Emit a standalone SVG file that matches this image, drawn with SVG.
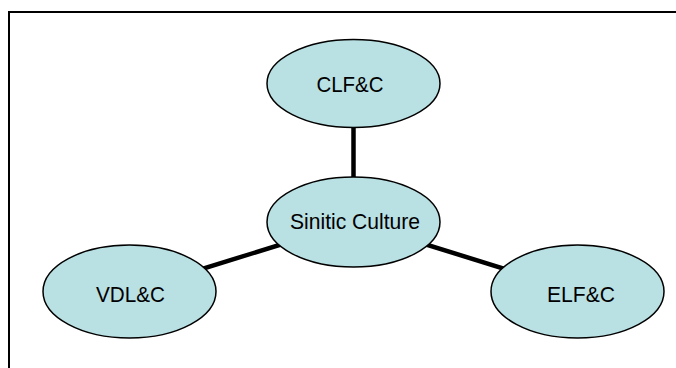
<svg xmlns="http://www.w3.org/2000/svg" width="676" height="368" viewBox="0 0 676 368">
<style>
.node ellipse{fill:#b9e0e3;stroke:#000;stroke-width:1.5}
.node text{font-family:"Liberation Sans",Arial,sans-serif;font-size:22px;fill:#000;text-anchor:middle}
.conn line{stroke:#000;stroke-width:4.5}
</style>
<rect width="676" height="368" fill="#fff"/>
<path d="M9 380 V12 H690" fill="none" stroke="#000" stroke-width="2"/>
<g id="connectors" class="conn">
<line x1="353.5" y1="83.5" x2="353.5" y2="222"/>
<line x1="129.5" y1="291.5" x2="353.5" y2="222"/>
<line x1="577.5" y1="291.5" x2="353.5" y2="222"/>
</g>
<g id="clf" class="node"><ellipse cx="353.5" cy="83.5" rx="86.5" ry="44"/><text x="350" y="91.7" textLength="67" lengthAdjust="spacingAndGlyphs">CLF&amp;C</text></g>
<g id="sinitic" class="node"><ellipse cx="353.5" cy="222" rx="86.5" ry="45"/><text x="355" y="229.3" textLength="130" lengthAdjust="spacingAndGlyphs">Sinitic Culture</text></g>
<g id="vdl" class="node"><ellipse cx="129.5" cy="291.5" rx="86.5" ry="46.5"/><text x="130.5" y="301.7" textLength="69" lengthAdjust="spacingAndGlyphs">VDL&amp;C</text></g>
<g id="elf" class="node"><ellipse cx="577.5" cy="291.5" rx="86.5" ry="46.5"/><text x="581" y="301.7" textLength="68" lengthAdjust="spacingAndGlyphs">ELF&amp;C</text></g>
</svg>
